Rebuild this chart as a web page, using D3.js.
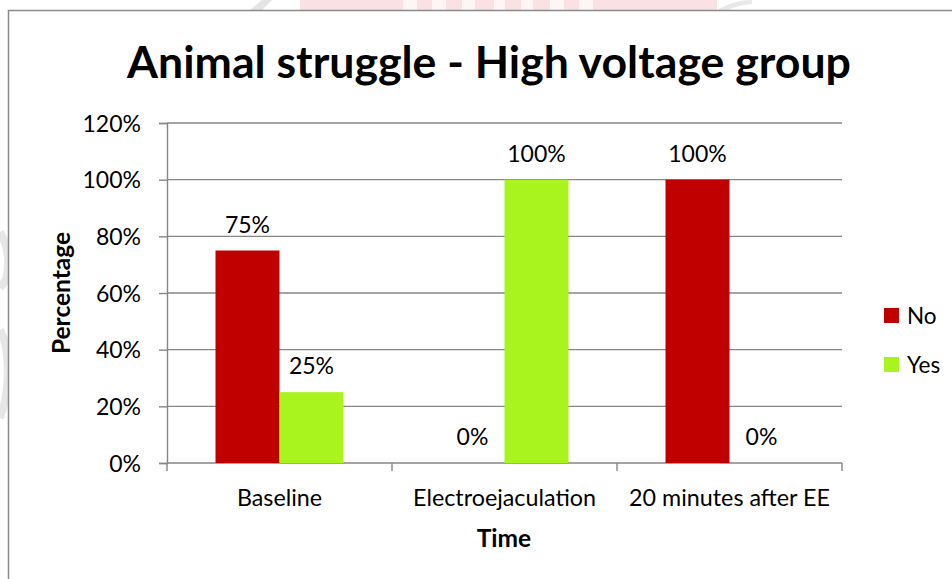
<!DOCTYPE html>
<html><head><meta charset="utf-8">
<script src="https://cdn.jsdelivr.net/npm/d3@7"></script>
<style>body{margin:0;background:#fff}svg{display:block}text{font-family:Lato,"Open Sans",sans-serif}</style>
</head><body>
<svg id="c" width="952" height="579"></svg>
<script>
const categories = ["Baseline", "Electroejaculation", "20 minutes after EE"];
const seriesNames = ["No", "Yes"];
const noValues = [0.75, 0, 1.0];
const yesValues = [0.25, 1.0, 0];
const yTicks = [0, 0.2, 0.4, 0.6, 0.8, 1.0, 1.2];
const colors = {No: "#C00000", Yes: "#A9F41E"};
const titleText = "Animal struggle - High voltage group";

const svg = d3.select("#c");

// faint watermark decorations behind the chart
const wm = svg.append("g");
wm.append("rect").attr("x", 300).attr("y", 0).attr("width", 417).attr("height", 10).attr("fill", "#f9e1e4");
[[403,14],[432,14],[462,13],[494,11],[521,12],[550,14],[579,14]].forEach(([x,w]) =>
  wm.append("rect").attr("x", x).attr("y", 0).attr("width", w).attr("height", 10).attr("fill", "#fdf5f6"));
wm.append("path").attr("d", "M250,10 L262,0 L272,0 L262,10 Z").attr("fill", "#e4e4e4");
wm.append("path").attr("d", "M717,10 C730,3 740,0 752,0 L752,4 C740,5 732,8 728,10 Z").attr("fill", "#e8e8e8");
wm.append("path").attr("d", "M0,232 C8,245 10,262 6,280 L0,288").attr("fill", "none").attr("stroke", "#e6e6e6").attr("stroke-width", 8);
wm.append("path").attr("d", "M0,330 C9,345 10,380 4,405 L0,418").attr("fill", "none").attr("stroke", "#e6e6e6").attr("stroke-width", 8);

// chart frame
svg.append("rect").attr("x", 8.5).attr("y", 10.5).attr("width", 1000).attr("height", 1000)
  .attr("fill", "#fff").attr("stroke", "#8c8c8c").attr("stroke-width", 1.5);

const x0 = 167, x1 = 842, yTop = 123, yBot = 463;
const x = d3.scaleBand().domain(categories).range([x0, x1]).paddingInner(0).paddingOuter(0);
const xs = d3.scaleBand().domain(seriesNames).range([0, x.bandwidth()]).paddingInner(0).paddingOuter(0.758);
const y = d3.scaleLinear().domain([0, 1.2]).range([yBot, yTop]);
const fmt = d3.format(".0%");
const grid = "#868686";

// gridlines
svg.append("g").selectAll("line").data(yTicks.slice(1)).join("line")
  .attr("x1", x0).attr("x2", x1).attr("y1", d => y(d)).attr("y2", d => y(d))
  .attr("stroke", grid).attr("stroke-width", 1.4);

// y axis
const yAxis = svg.append("g").attr("transform", `translate(${x0},0)`)
  .call(d3.axisLeft(y).tickValues(yTicks).tickFormat(fmt).tickSize(8).tickPadding(18));
yAxis.select(".domain").attr("stroke", grid).attr("stroke-width", 1.4);
yAxis.selectAll(".tick line").attr("stroke", grid).attr("stroke-width", 1.4);
yAxis.selectAll(".tick text").attr("font-family", "Lato").attr("font-size", 23).attr("fill", "#000").attr("dy", "0.36em");

// x axis
svg.append("line").attr("x1", x0).attr("x2", x1).attr("y1", yBot).attr("y2", yBot).attr("stroke", grid).attr("stroke-width", 1.4);
const bounds = categories.map(c => x(c)).concat([x1]);
svg.append("g").selectAll("line").data(bounds).join("line")
  .attr("x1", d => d).attr("x2", d => d).attr("y1", yBot).attr("y2", yBot + 8)
  .attr("stroke", grid).attr("stroke-width", 1.4);
svg.append("g").selectAll("text").data(categories).join("text")
  .attr("x", d => x(d) + x.bandwidth() / 2).attr("y", 506)
  .attr("text-anchor", "middle").attr("font-size", 23.3).attr("fill", "#000").text(d => d);

// bars
const rows = categories.map((c, i) => ({c, vals: [{s: "No", v: noValues[i]}, {s: "Yes", v: yesValues[i]}]}));
const g = svg.append("g").selectAll("g").data(rows).join("g").attr("transform", d => `translate(${x(d.c)},0)`);
g.selectAll("rect").data(d => d.vals).join("rect")
  .attr("x", d => xs(d.s)).attr("width", xs.bandwidth())
  .attr("y", d => y(d.v)).attr("height", d => yBot - y(d.v))
  .attr("fill", d => colors[d.s]);
g.selectAll("text").data(d => d.vals).join("text")
  .attr("x", d => xs(d.s) + xs.bandwidth() / 2).attr("y", d => y(d.v) - 18)
  .attr("text-anchor", "middle").attr("font-size", 23).attr("fill", "#000").text(d => fmt(d.v));

// titles
const t = svg.append("text").attr("x", 489).attr("y", 78).attr("text-anchor", "middle")
  .attr("font-weight", "bold").attr("font-size", 40).attr("fill", "#000").text(titleText);
const tl = t.node().getComputedTextLength();
t.attr("font-size", 40 * 724 / tl);

svg.append("text").attr("transform", "translate(70,293) rotate(-90)").attr("text-anchor", "middle")
  .attr("font-weight", "bold").attr("font-size", 24.5).attr("fill", "#000").text("Percentage");
svg.append("text").attr("x", 504).attr("y", 547).attr("text-anchor", "middle")
  .attr("font-weight", "bold").attr("font-size", 24.5).attr("fill", "#000").text("Time");

// legend
const lg = svg.append("g").selectAll("g").data(seriesNames).join("g")
  .attr("transform", (d, i) => `translate(884,${308 + i * 49})`);
lg.append("rect").attr("width", 15).attr("height", 15).attr("fill", d => colors[d]);
lg.append("text").attr("x", 23).attr("y", 7.5).attr("dy", "0.36em").attr("font-size", 22.5).attr("fill", "#000").text(d => d);
</script>
</body></html>
